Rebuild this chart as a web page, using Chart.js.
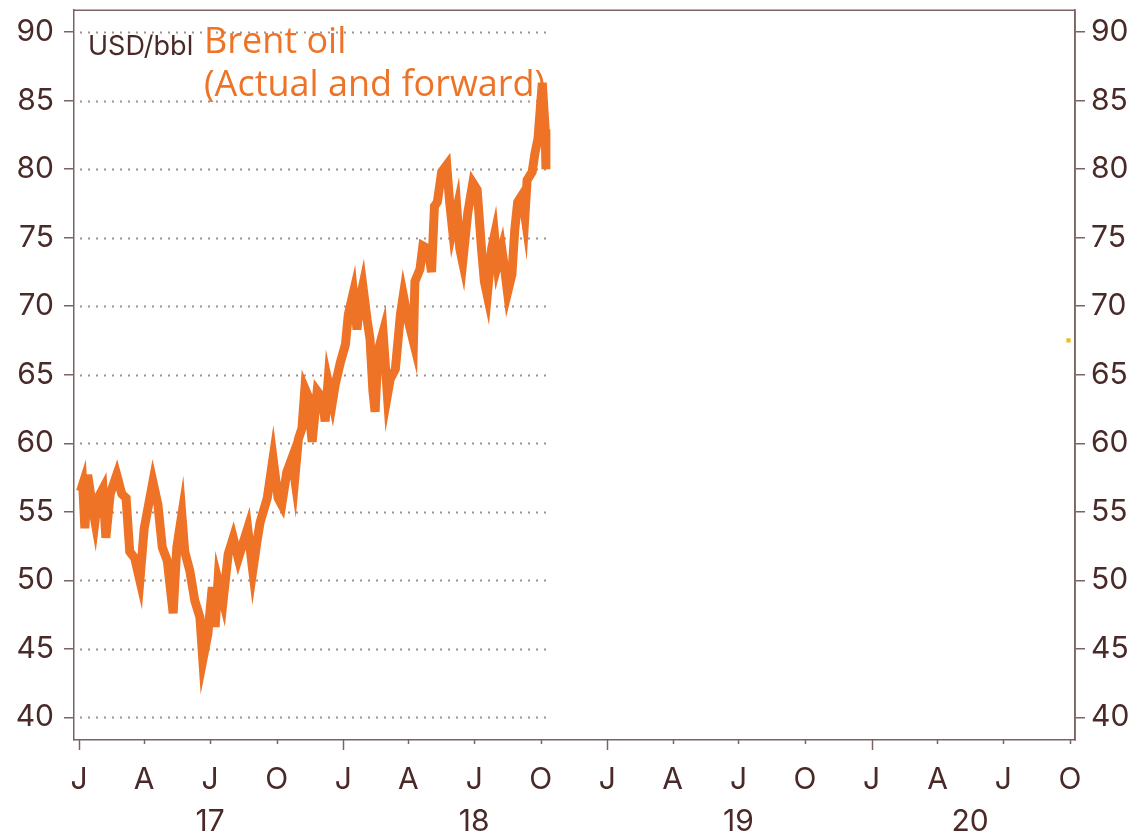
<!DOCTYPE html>
<html>
<head>
<meta charset="utf-8">
<script src="https://cdn.jsdelivr.net/npm/chart.js@4"></script>
<style>
  html, body { margin: 0; padding: 0; background: #fff; }
  #wrap { width: 1140px; height: 837px; }
</style>
</head>
<body>
<div id="wrap"><canvas id="brentChart"></canvas></div>
<script>
(function () {
  'use strict';

  // ── Data ──
  const brentDates = [
    '2017-01-03','2017-01-06','2017-01-09','2017-01-13','2017-01-19','2017-01-23','2017-01-27',
    '2017-02-03','2017-02-07','2017-02-13','2017-02-22','2017-03-01','2017-03-07','2017-03-12',
    '2017-03-19','2017-03-26','2017-04-01','2017-04-13','2017-04-20','2017-04-26','2017-05-03',
    '2017-05-07','2017-05-11','2017-05-16','2017-05-23','2017-05-27','2017-06-03','2017-06-10',
    '2017-06-17','2017-06-21','2017-06-28','2017-07-04','2017-07-08','2017-07-12','2017-07-19',
    '2017-07-26','2017-08-02','2017-08-09','2017-08-22','2017-08-29','2017-09-04','2017-09-08',
    '2017-09-18','2017-09-26','2017-10-03','2017-10-08','2017-10-15','2017-10-22','2017-10-26',
    '2017-10-31','2017-11-05','2017-11-09','2017-11-13','2017-11-19','2017-11-26','2017-12-03',
    '2017-12-07','2017-12-11','2017-12-17','2017-12-21','2017-12-28','2018-01-04','2018-01-08',
    '2018-01-15','2018-01-20','2018-01-24','2018-01-28','2018-02-03','2018-02-07','2018-02-11',
    '2018-02-14','2018-02-18','2018-02-25','2018-03-03','2018-03-07','2018-03-14','2018-03-21',
    '2018-03-25','2018-04-01','2018-04-08','2018-04-10','2018-04-17','2018-04-21','2018-04-28',
    '2018-05-03','2018-05-07','2018-05-11','2018-05-17','2018-05-24','2018-05-28','2018-06-01',
    '2018-06-07','2018-06-11','2018-06-15','2018-06-22','2018-06-29','2018-07-05','2018-07-11',
    '2018-07-15','2018-07-19','2018-07-25','2018-07-29','2018-08-02','2018-08-08','2018-08-12',
    '2018-08-16','2018-08-22','2018-08-26','2018-08-30','2018-09-05','2018-09-09','2018-09-12',
    '2018-09-19','2018-09-23','2018-09-27','2018-10-02','2018-10-03','2018-10-07','2018-10-08'
  ];
  const brentValues = [
    56.5, 57.0, 53.8, 57.7, 55.5, 54.3, 56.0,
    56.7, 53.1, 56.3, 57.7, 56.3, 56.0, 52.1,
    51.6, 50.0, 53.8, 57.2, 55.5, 52.4, 51.4,
    49.5, 47.6, 52.4, 54.8, 52.1, 50.7, 48.5,
    47.3, 44.2, 46.1, 49.5, 46.6, 50.0, 48.5,
    51.9, 53.1, 51.6, 53.8, 50.7, 52.9, 54.2,
    56.0, 58.9, 56.0, 55.5, 57.9, 58.9, 57.4,
    60.3, 61.1, 64.0, 63.5, 60.1, 63.8, 63.3,
    61.6, 64.5, 63.0, 64.3, 65.9, 67.2, 69.4,
    71.0, 68.3, 70.5, 71.5, 69.0, 67.6, 63.8,
    62.3, 66.7, 68.1, 63.5, 64.7, 65.4, 69.4,
    70.8, 68.9, 67.4, 71.8, 72.7, 74.4, 74.2,
    72.5, 77.3, 77.6, 79.8, 80.3, 77.6, 75.6,
    77.1, 74.2, 73.2, 76.8, 79.0, 78.5, 74.2,
    71.8, 70.8, 74.2, 75.2, 73.0, 74.2, 72.7,
    71.0, 72.3, 75.6, 77.6, 78.1, 76.6, 79.2,
    79.8, 81.2, 82.2, 85.6, 86.3, 82.9, 80.0
  ];
  const forwardDates = ['2020-09-29'];
  const forwardValues = [67.5];

  const quarterStarts = [
    '2017-01-01','2017-04-01','2017-07-01','2017-10-01',
    '2018-01-01','2018-04-01','2018-07-01','2018-10-01',
    '2019-01-01','2019-04-01','2019-07-01','2019-10-01',
    '2020-01-01','2020-04-01','2020-07-01','2020-10-01'
  ];
  const quarterLetters = ['J', 'A', 'J', 'O'];
  const yearLabels = ['17', '18', '19', '20'];
  const yearCenters = ['2017-07-01', '2018-07-01', '2019-07-01', '2020-05-16'];
  const yTicks = [40, 45, 50, 55, 60, 65, 70, 75, 80, 85, 90];

  // ── Style ──
  const C = {
    ink: '#4a2a28',
    axis: '#7a6462',
    grid: '#a3918b',
    orange: '#ee7326',
    yellow: '#f6b91c',
    font: "Inter, 'Liberation Sans', sans-serif",
    titleFont: "'Open Sans', sans-serif",
  };

  const T0 = Date.UTC(2017, 0, 1);
  function day(s) {
    const p = s.split('-').map(Number);
    return (Date.UTC(p[0], p[1] - 1, p[2]) - T0) / 86400000;
  }

  const brentPoints = brentDates.map((d, i) => ({ x: day(d), y: brentValues[i] }));
  const forwardPoints = forwardDates.map((d, i) => ({ x: day(d), y: forwardValues[i] }));
  const lastDay = brentPoints[brentPoints.length - 1].x;

  // tiny lineHeight keeps the top label from pushing the plot down
  const yFont = { family: C.font, size: 30, lineHeight: 0.01 };
  const xFont = { family: C.font, size: 30 };

  // gridlines only run across the span with actual data
  const dottedGrid = {
    id: 'dottedGrid',
    beforeDatasetsDraw(chart) {
      const { ctx, chartArea, scales: { x, y } } = chart;
      const xEnd = x.getPixelForValue(lastDay) + 2;
      ctx.save();
      ctx.strokeStyle = C.grid;
      ctx.lineWidth = 2;
      ctx.setLineDash([2, 6]);
      yTicks.forEach(v => {
        const py = Math.round(y.getPixelForValue(v)) + 0.5;
        ctx.beginPath();
        ctx.moveTo(chartArea.left + 6, py);
        ctx.lineTo(xEnd, py);
        ctx.stroke();
      });
      ctx.restore();
    }
  };

  const frameAndLabels = {
    id: 'frameAndLabels',
    afterDraw(chart) {
      const { ctx, chartArea: { left, right, top, bottom }, scales: { x } } = chart;
      ctx.save();
      // frame
      ctx.strokeStyle = C.axis;
      ctx.lineWidth = 1.5;
      ctx.beginPath();
      ctx.moveTo(left, top);
      ctx.lineTo(right, top);
      ctx.lineTo(right, bottom);
      ctx.stroke();
      // x tick marks, longer at each January
      quarterStarts.forEach((q, i) => {
        const px = Math.round(x.getPixelForValue(day(q))) + 0.5;
        ctx.beginPath();
        ctx.moveTo(px, bottom);
        ctx.lineTo(px, bottom + (i % 4 === 0 ? 10 : 4));
        ctx.stroke();
      });
      // year labels
      ctx.fillStyle = C.ink;
      ctx.font = `30px ${C.font}`;
      ctx.textAlign = 'center';
      ctx.textBaseline = 'alphabetic';
      yearLabels.forEach((lab, i) => {
        ctx.fillText(lab, x.getPixelForValue(day(yearCenters[i])), 831);
      });
      // unit + title
      ctx.textAlign = 'left';
      ctx.font = `27px ${C.font}`;
      ctx.fillText('USD/bbl', 88, 55);
      ctx.fillStyle = C.orange;
      ctx.font = `36px ${C.titleFont}`;
      ctx.fillText('Brent oil', 204, 53);
      ctx.fillText('(Actual and forward)', 204, 96);
      ctx.restore();
    }
  };

  function init() {
    const canvas = document.getElementById('brentChart');

    new Chart(canvas, {
      type: 'line',
      data: {
        datasets: [
          {
            label: 'Brent oil',
            data: brentPoints,
            borderColor: C.orange,
            backgroundColor: C.orange,
            borderWidth: 9,
            pointRadius: 0,
            tension: 0,
          },
          {
            label: 'Forward',
            data: forwardPoints,
            showLine: false,
            pointStyle: 'rect',
            pointRadius: 3,
            backgroundColor: C.yellow,
            borderWidth: 0,
          }
        ]
      },
      options: {
        responsive: true,
        maintainAspectRatio: false,
        animation: false,
        layout: { padding: { top: 6 } },
        plugins: {
          legend: { display: false },
          tooltip: { enabled: false },
        },
        scales: {
          x: {
            type: 'linear',
            min: -7,
            max: 1376,
            afterBuildTicks: s => { s.ticks = quarterStarts.map(q => ({ value: day(q) })); },
            afterFit: s => { s.height = 97; },
            grid: { display: true, drawOnChartArea: false, drawTicks: false },
            border: { display: true, color: C.axis, width: 1.5 },
            ticks: {
              autoSkip: false,
              maxRotation: 0,
              padding: 22,
              font: xFont,
              color: C.ink,
              callback: (v, i) => quarterLetters[i % 4],
            }
          },
          y: {
            position: 'left',
            min: 38.35,
            max: 91.6,
            afterBuildTicks: s => { s.ticks = yTicks.map(v => ({ value: v })); },
            afterFit: s => { s.width = 74; },
            grid: { drawOnChartArea: false, tickLength: 10, color: C.axis, lineWidth: 1.5 },
            border: { display: true, color: C.axis, width: 1.5 },
            ticks: { padding: 10, font: yFont, color: C.ink }
          },
          y2: {
            position: 'right',
            min: 38.35,
            max: 91.6,
            afterBuildTicks: s => { s.ticks = yTicks.map(v => ({ value: v })); },
            afterFit: s => { s.width = 65; },
            grid: { drawOnChartArea: false, tickLength: 10, color: C.axis, lineWidth: 1.5 },
            border: { display: true, color: C.axis, width: 1.5 },
            ticks: { padding: 6, font: yFont, color: C.ink }
          }
        }
      },
      plugins: [dottedGrid, frameAndLabels]
    });
  }

  document.addEventListener('DOMContentLoaded', init);
})();
</script>
</body>
</html>
